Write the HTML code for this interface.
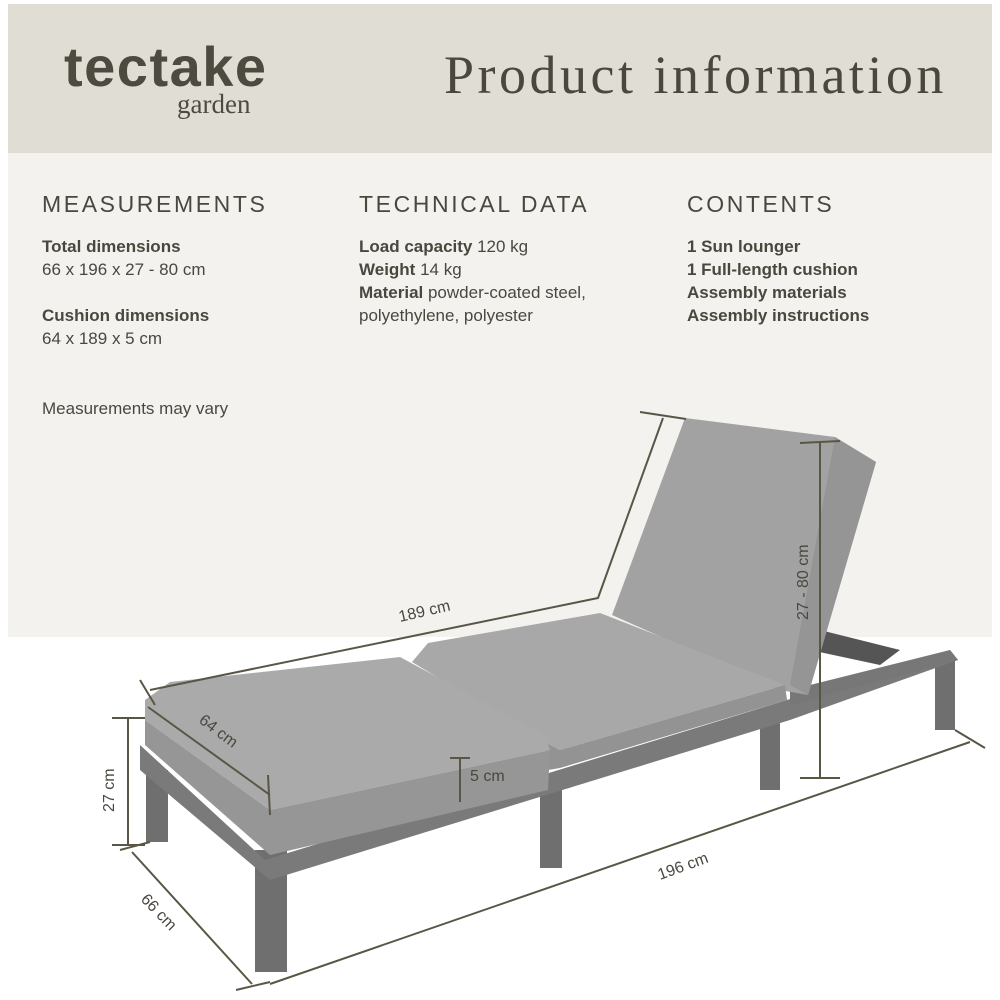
<!DOCTYPE html>
<html><head><meta charset="utf-8"><style>
body{margin:0;width:1000px;height:1000px;background:#fff;position:relative;overflow:hidden;font-family:"Liberation Sans",sans-serif;color:#4a473f}
.hd{position:absolute;left:8px;top:4px;width:984px;height:149px;background:#e0ddd4}
.bd{position:absolute;left:8px;top:153px;width:984px;height:484px;background:#f3f2ee}
.t{position:absolute;white-space:nowrap}
h3{position:absolute;margin:0;font-weight:normal;font-size:23px;letter-spacing:2.6px;color:#4a473f}
.c{position:absolute;font-size:17px;line-height:23px;color:#4a473f;white-space:nowrap}
b{font-weight:bold}
</style></head><body>
<div class="hd"></div><div class="bd"></div>
<div class="t" style="left:64px;top:34px;font-size:56px;font-weight:bold;color:#4d4a40;letter-spacing:1.5px">tectake</div>
<div class="t" style="left:177px;top:89px;font-size:27px;font-family:'Liberation Serif',serif;color:#4d4a40">garden</div>
<div class="t" style="left:444px;top:44px;font-size:54px;font-family:'Liberation Serif',serif;color:#4a473f;letter-spacing:3.5px">Product information</div>
<h3 style="left:42px;top:191px">MEASUREMENTS</h3>
<h3 style="left:359px;top:191px">TECHNICAL DATA</h3>
<h3 style="left:687px;top:191px">CONTENTS</h3>
<div class="c" style="left:42px;top:235px"><b>Total dimensions</b><br>66 x 196 x 27 - 80 cm<br><div style="height:23px"></div><b>Cushion dimensions</b><br>64 x 189 x 5 cm</div>
<div class="c" style="left:42px;top:397px">Measurements may vary</div>
<div class="c" style="left:359px;top:235px"><b>Load capacity</b> 120 kg<br><b>Weight</b> 14 kg<br><b>Material</b> powder-coated steel,<br>polyethylene, polyester</div>
<div class="c" style="left:687px;top:235px"><b>1 Sun lounger<br>1 Full-length cushion<br>Assembly materials<br>Assembly instructions</b></div>
<svg width="1000" height="1000" style="position:absolute;left:0;top:0">
<g fill="#6f6f6f">
<rect x="146" y="770" width="22" height="72"/>
<rect x="255" y="850" width="32" height="122"/>
<rect x="540" y="790" width="22" height="78"/>
<rect x="760" y="715" width="20" height="75"/>
<rect x="935" y="660" width="20" height="70"/>
</g>
<polygon points="140,745 265,860 950,650 958,660 790,720 270,880 140,770" fill="#7a7a7a"/>
<polygon points="790,690 950,650 958,660 790,705" fill="#777"/>
<polygon points="820,630 900,650 880,665 810,650" fill="#555"/>
<polygon points="685,418 835,437 876,462 808,695 780,690 612,615" fill="#a2a2a2"/>
<polygon points="835,437 876,462 808,695 790,685" fill="#959595"/>
<polygon points="412,662 428,643 600,613 785,685 560,750 545,742" fill="#a8a8a8"/>
<polygon points="545,742 560,750 785,685 787,700 560,768 548,770" fill="#939393"/>
<polygon points="145,700 170,682 400,657 545,735 550,750 270,810 145,720" fill="#aaaaaa"/>
<polygon points="145,720 270,810 550,750 548,790 270,855 145,745" fill="#969696"/>
<g stroke="#5a5646" stroke-width="2" fill="none">
<polyline points="150,690 598,598 663,418"/>
<line x1="640" y1="412" x2="686" y2="419"/>
<line x1="140" y1="680" x2="155" y2="705"/>
<line x1="148" y1="707" x2="270" y2="795"/>
<line x1="268" y1="775" x2="270" y2="815"/>
<line x1="460" y1="758" x2="460" y2="802"/>
<line x1="450" y1="758" x2="470" y2="758"/>
<line x1="128" y1="718" x2="128" y2="845"/>
<line x1="112" y1="718" x2="145" y2="718"/>
<line x1="112" y1="845" x2="145" y2="845"/>
<line x1="132" y1="852" x2="252" y2="984"/>
<line x1="120" y1="850" x2="150" y2="842"/>
<line x1="236" y1="990" x2="270" y2="982"/>
<line x1="270" y1="984" x2="970" y2="742"/>
<line x1="955" y1="730" x2="985" y2="748"/>
<line x1="820" y1="443" x2="820" y2="778"/>
<line x1="800" y1="443" x2="840" y2="441"/>
<line x1="800" y1="778" x2="840" y2="778"/>
</g>
<g fill="#4a473f" font-family="Liberation Sans,sans-serif" font-size="16">
<text transform="translate(400,622) rotate(-13)">189 cm</text>
<text transform="translate(198,722) rotate(37)">64 cm</text>
<text x="470" y="781">5 cm</text>
<text transform="translate(114,812) rotate(-90)">27 cm</text>
<text transform="translate(140,900) rotate(46)">66 cm</text>
<text transform="translate(660,880) rotate(-20)">196 cm</text>
<text transform="translate(808,620) rotate(-90)">27 - 80 cm</text>
</g>
</svg>
</body></html>
